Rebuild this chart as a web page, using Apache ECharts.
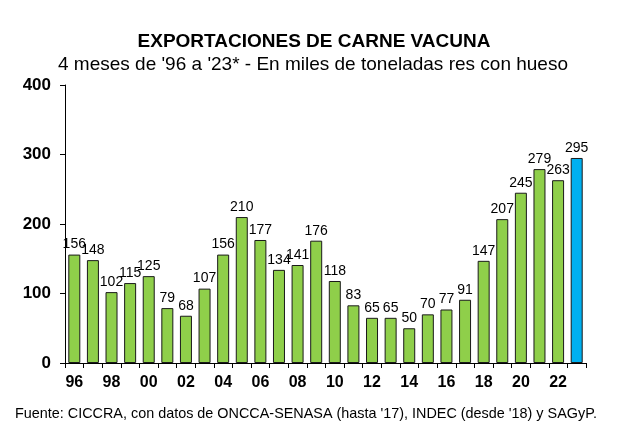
<!DOCTYPE html>
<html><head><meta charset="utf-8">
<script src="https://cdn.jsdelivr.net/npm/echarts@6/dist/echarts.min.js"></script>
<style>html,body{margin:0;padding:0;background:#fff}#c{width:640px;height:437px}</style>
</head><body><div id="c"></div>
<script>
const years = ['96','97','98','99','00','01','02','03','04','05','06','07','08','09','10','11','12','13','14','15','16','17','18','19','20','21','22','23'];
const values = [156,148,102,115,125,79,68,107,156,210,177,134,141,176,118,83,65,65,50,70,77,91,147,207,245,279,263,295];
const yTicks = [0,100,200,300,400];
const titleText = 'EXPORTACIONES DE CARNE VACUNA';
const subtitleText = "4 meses de '96 a '23* - En miles de toneladas res con hueso";
const sourceText = "Fuente: CICCRA, con datos de ONCCA-SENASA (hasta '17), INDEC (desde '18) y SAGyP.";

const chart = echarts.init(document.getElementById('c'));
const font = 'Liberation Sans, Arial, sans-serif';
chart.setOption({
  animation: false,
  title: [
    {text: titleText, left: 309, top: 27, textAlign: 'center',
     textStyle: {fontFamily: font, fontSize: 19, fontWeight: 'bold', color: '#000'}},
    {text: subtitleText, left: 308, top: 50, textAlign: 'center',
     textStyle: {fontFamily: font, fontSize: 19, fontWeight: 'normal', color: '#000'}},
    {text: sourceText, left: 10, top: 402,
     textStyle: {fontFamily: font, fontSize: 14.4, fontWeight: 'normal', color: '#000'}}
  ],
  grid: {left: 65, right: 54, top: 85, bottom: 74},
  xAxis: {
    type: 'category', data: years,
    axisLine: {lineStyle: {color: '#000', width: 1}},
    axisTick: {show: true, alignWithLabel: false, interval: 0, length: 5, lineStyle: {color: '#000'}},
    axisLabel: {interval: 1, fontFamily: font, fontSize: 16, fontWeight: 'bold', color: '#000', margin: 12}
  },
  yAxis: {
    type: 'value', min: 0, max: 400, interval: 100,
    splitLine: {show: false},
    axisLine: {show: true, lineStyle: {color: '#000', width: 1}},
    axisTick: {show: true, length: 5, lineStyle: {color: '#000'}},
    axisLabel: {fontFamily: font, fontSize: 17, fontWeight: 'bold', color: '#000', margin: 14,
      formatter: v => yTicks.includes(v) ? String(v) : ''}
  },
  series: [{
    type: 'bar',
    data: values.map((v, i) => ({value: v, itemStyle: {color: i === values.length - 1 ? '#00B0F0' : '#8FCF4A'}})),
    barWidth: 12,
    itemStyle: {borderColor: '#1a1a1a', borderWidth: 1},
    label: {show: true, position: 'top', distance: 3, fontFamily: font, fontSize: 14, color: '#000'}
  }]
});
</script></body></html>
